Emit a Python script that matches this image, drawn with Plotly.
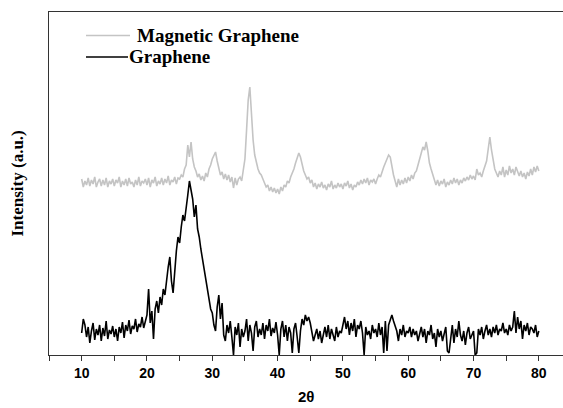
import numpy as np
import plotly.graph_objects as go

# 2-theta grid (degrees), 0.25 step from 10 to 80
two_theta = [round(10 + 0.25 * i, 2) for i in range(281)]

# Magnetic graphene intensity (a.u.)
magnetic_graphene = [
    176,168,174,170,177,169,175,171,178,168,173,176,169,175,170,177,168,174,171,176,
    169,175,172,178,168,174,170,176,169,177,171,173,168,175,170,178,169,174,172,176,
    170,177,168,175,172,178,169,174,171,177,170,176,172,179,170,175,173,178,171,177,
    176,180,178,186,190,210,198,213,196,188,184,178,181,175,179,174,182,178,186,190,
    196,200,203,194,186,180,183,176,181,175,180,173,178,167,177,170,176,178,174,186,
    196,225,255,268,240,215,200,192,186,182,180,176,172,168,170,164,168,163,167,162,
    166,161,168,164,170,168,174,172,178,182,186,192,196,202,198,190,184,180,176,178,
    172,175,168,172,166,171,168,173,167,170,165,171,168,174,166,170,167,172,168,171,
    166,172,169,174,167,171,165,170,168,173,170,175,171,176,172,177,170,175,173,176,
    171,176,180,178,184,188,192,196,200,198,188,180,174,168,176,170,175,171,177,172,
    178,174,180,176,182,184,190,196,202,208,205,213,204,192,186,180,176,170,175,169,
    174,171,176,168,173,170,175,171,177,172,176,170,175,172,177,174,178,175,180,176,
    179,175,186,180,182,178,184,188,194,206,218,205,194,186,182,178,184,180,188,178,
    185,180,189,182,186,180,188,183,179,184,178,182,176,183,179,186,180,188,183,189,
    184,
]

# Graphene intensity (a.u.)
graphene = [
    22,36,30,18,28,12,24,32,15,26,20,30,14,27,19,34,16,25,21,29,
    18,26,14,28,22,33,17,30,24,35,21,29,26,36,23,31,28,38,27,34,
    40,66,32,44,16,46,54,42,58,50,66,60,78,88,98,74,62,88,104,118,
    112,128,140,134,150,160,174,164,156,138,150,126,118,106,96,84,72,64,56,46,
    42,30,24,48,60,36,52,20,14,30,22,34,18,0,28,20,32,8,26,18,
    24,36,14,30,22,4,28,34,18,26,20,32,16,30,24,36,19,27,22,33,
    20,0,26,34,18,30,14,28,22,2,26,32,18,2,24,36,30,40,34,38,
    32,24,14,20,26,16,24,12,22,28,18,30,16,26,20,14,28,18,24,22,
    30,38,26,34,20,32,24,36,18,30,26,34,22,0,28,20,24,16,30,22,
    26,18,32,20,28,2,34,4,30,36,40,34,28,24,14,26,20,30,18,24,
    22,28,18,26,20,24,14,22,28,18,26,12,24,20,30,16,22,8,26,18,
    24,14,20,28,4,2,16,30,12,26,18,34,20,14,24,10,22,28,16,20,
    24,0,2,26,20,28,16,24,30,20,26,18,28,22,30,20,26,24,32,22,
    26,20,30,24,28,44,22,38,26,34,16,30,24,32,20,28,26,22,30,18,
    24,
]

x_major_ticks = [10, 20, 30, 40, 50, 60, 70, 80]
series_names = ["Magnetic Graphene", "Graphene"]

fig = go.Figure()
fig.add_trace(go.Scatter(x=two_theta, y=magnetic_graphene, mode="lines",
                         name=series_names[0],
                         line=dict(color="#c4c4c4", width=1.6)))
fig.add_trace(go.Scatter(x=two_theta, y=graphene, mode="lines",
                         name=series_names[1],
                         line=dict(color="#000000", width=1.6)))

L, T, B = 49, 12, 53
W, H = 563, 408
pw = W - L
ph = H - T - B

def px_x(p):
    return (p - L) / pw

def px_y(p):
    return (H - B - p) / ph

serif = "Liberation Serif, Times New Roman, serif"
sans = "Liberation Sans, Arial, sans-serif"

# legend drawn manually
legend_rows = [(35.5, "#c4c4c4", 86, 130, 135), (57.0, "#000000", 86, 128, 127)]
shapes = []
annotations = []
for (yy, col, x0, x1, tx), name in zip(legend_rows, series_names):
    shapes.append(dict(type="line", xref="paper", yref="paper",
                       x0=px_x(x0), x1=px_x(x1), y0=px_y(yy), y1=px_y(yy),
                       line=dict(color=col, width=1.4)))
    annotations.append(dict(text=name, xref="paper", yref="paper",
                            x=px_x(tx), y=px_y(yy), xanchor="left", yanchor="middle",
                            showarrow=False,
                            font=dict(family=serif, size=19, color="black", weight="bold")))

annotations.append(dict(text="Intensity (a.u.)", xref="paper", yref="paper",
                        x=0, y=0.5, xshift=-32, textangle=-90,
                        xanchor="center", yanchor="middle", showarrow=False,
                        font=dict(family=serif, size=17, color="black", weight="bold")))
annotations.append(dict(text="2θ", xref="paper", yref="paper",
                        x=0.5, y=0, yshift=-41, xanchor="center", yanchor="middle",
                        showarrow=False,
                        font=dict(family=sans, size=15, color="black", weight="bold")))

fig.update_layout(
    width=W, height=H,
    margin=dict(l=L, r=0, t=T, b=B, pad=0),
    paper_bgcolor="white", plot_bgcolor="white",
    showlegend=False,
    shapes=shapes,
    annotations=annotations,
    xaxis=dict(range=[5, 83.7], tickvals=x_major_ticks,
               ticktext=[str(v) for v in x_major_ticks],
               ticks="outside", ticklen=5, tickwidth=1.2, tickcolor="#333",
               minor=dict(ticks="outside", dtick=5, tick0=5, ticklen=5,
                          tickwidth=1.2, tickcolor="#333"),
               showline=True, linecolor="#333", linewidth=1.3, mirror=True,
               showgrid=False, zeroline=False,
               tickfont=dict(family=sans, size=14, color="black", weight="bold")),
    yaxis=dict(range=[0, 343], showticklabels=False, ticks="",
               showline=True, linecolor="#333", linewidth=1.3,
               showgrid=False, zeroline=False),
)

fig.write_html("out.html")
